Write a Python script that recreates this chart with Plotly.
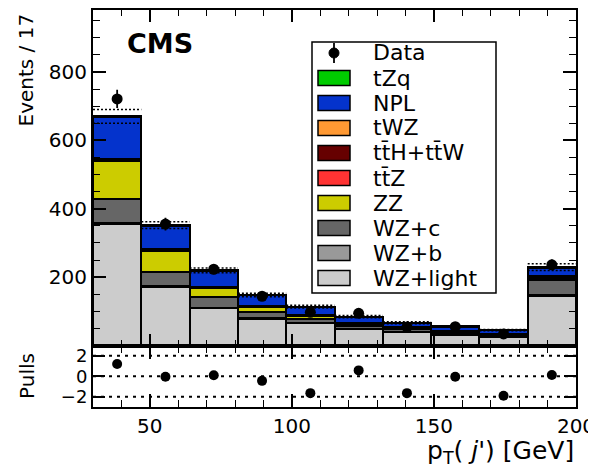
import numpy as np
import plotly.graph_objects as go

# ---------------- data ----------------
bin_edges = [30, 47, 64, 81, 98, 115, 132, 149, 166, 183, 200]

wz_light = [355, 170, 109, 77, 65, 47, 39, 32, 25, 145]
wz_b     = [4, 3, 2, 2, 1, 1, 1, 1, 1, 3]
wz_c     = [70, 42, 31, 18, 11, 9, 7, 5, 4, 43]
zz       = [110, 62, 27, 17, 10, 6, 5, 3, 2, 6]
ttz      = [3, 2, 2, 1, 1, 1, 1, 0.5, 0.5, 3]
tth_ttw  = [2, 1, 1, 1, 0.5, 0.5, 0.5, 0.5, 0.5, 2]
twz      = [1, 1, 0.5, 0.5, 0.5, 0.5, 0.5, 0.3, 0.3, 1]
npl      = [122, 69, 46, 30, 24, 19, 12, 13, 11, 24]
tzq      = [3, 2, 1, 1, 1, 0.5, 0.5, 0.5, 0.5, 2]

bkg_unc  = [20, 10, 7, 5, 4, 3, 3, 2, 2, 10]

data_counts = [721, 355, 223, 144, 97, 94, 54, 55, 34, 236]
pulls = [1.2, -0.05, 0.1, -0.45, -1.65, 0.57, -1.65, -0.05, -1.9, 0.12]

stack_names  = ["WZ+light", "WZ+b", "WZ+c", "ZZ", "tt\u0304Z", "tt\u0304H+tt\u0304W", "tWZ", "NPL", "tZq"]
stack_values = [wz_light, wz_b, wz_c, zz, ttz, tth_ttw, twz, npl, tzq]
stack_colors = ["#cccccc", "#999999", "#666666", "#cccc00", "#ff3333", "#660000", "#ff9933", "#0433cc", "#00cc00"]

x_ticks_major = [50, 100, 150, 200]
y_ticks_major = [200, 400, 600, 800]
pull_ticks = [-2, 0, 2]
pull_ticktext = ["\u22122", "0", "2"]
pull_levels = [-2, 0, 2]

# ---------------- derived ----------------
lo = np.array(bin_edges[:-1], float)
hi = np.array(bin_edges[1:], float)
centers = (lo + hi) / 2
widths = hi - lo
total = np.sum(np.array(stack_values, float), axis=0)
unc = np.array(bkg_unc, float)
dat = np.array(data_counts, float)

FONT = "DejaVu Sans"
fig = go.Figure()

for name, vals, col in zip(stack_names, stack_values, stack_colors):
    fig.add_trace(go.Bar(
        x=centers, y=vals, width=widths, name=name,
        marker=dict(color=col, line=dict(color="black", width=2)),
        xaxis="x", yaxis="y", showlegend=False))

# uncertainty band edges (dotted)
for sign in (1, -1):
    xs, ys = [], []
    for a, b, t, u in zip(lo, hi, total, unc):
        xs += [a, b, None]
        ys += [t + sign * u, t + sign * u, None]
    fig.add_trace(go.Scatter(x=xs, y=ys, mode="lines", xaxis="x", yaxis="y",
                             line=dict(color="black", width=1.5, dash="2px,2px"),
                             showlegend=False, hoverinfo="skip"))

fig.add_trace(go.Scatter(
    x=centers, y=dat, mode="markers", name="Data",
    marker=dict(color="black", size=11),
    error_y=dict(type="data", array=np.sqrt(dat), color="black", thickness=1.8, width=0),
    xaxis="x", yaxis="y", showlegend=False))

fig.add_trace(go.Scatter(
    x=centers, y=pulls, mode="markers",
    marker=dict(color="black", size=10),
    xaxis="x2", yaxis="y2", showlegend=False))

# ---------------- layout ----------------
OFF = 8                      # page body margin offset
W, H = 596 - OFF, 472 - OFF
PX0, PX1, PY0, PY1 = 93, 576, 10, 407   # plot area in page pixels
L, T = PX0 - OFF, PY0 - OFF
R, B = W - (PX1 - OFF), H - (PY1 - OFF)
pw, ph = PX1 - PX0, PY1 - PY0
split = 61.5 / ph


def px_x(p):
    return (p - PX0) / pw


def px_y(p):
    return (PY1 - p) / ph


axis_common = dict(showline=True, linecolor="black", linewidth=2, mirror="ticks",
                   ticks="inside", tickcolor="black", showgrid=False, zeroline=False,
                   tickfont=dict(family=FONT, size=20, color="black"))

fig.update_layout(
    width=W, height=H, barmode="stack", bargap=0,
    margin=dict(l=L, r=R, t=T, b=B, autoexpand=False),
    paper_bgcolor="white", plot_bgcolor="white",
    font=dict(family=FONT, color="black"),
    xaxis=dict(domain=[0, 1], anchor="y", range=[30, 200], tickvals=x_ticks_major,
               showticklabels=False, ticklen=12, tickwidth=1.5,
               minor=dict(dtick=10, tick0=0, ticklen=6, ticks="inside", tickcolor="black", tickwidth=1.2),
               **axis_common),
    yaxis=dict(domain=[split, 1], anchor="x", range=[0.01, 981], tickvals=y_ticks_major,
               ticklen=13, tickwidth=1.5,
               minor=dict(dtick=50, tick0=0, ticklen=7, ticks="inside", tickcolor="black", tickwidth=1.2),
               **axis_common),
    xaxis2=dict(domain=[0, 1], anchor="y2", range=[30, 200], tickvals=x_ticks_major,
                ticklen=13, tickwidth=1.5,
                minor=dict(dtick=10, tick0=0, ticklen=7, ticks="inside", tickcolor="black", tickwidth=1.2),
                **axis_common),
    yaxis2=dict(domain=[0, split], anchor="x2", range=[-3, 3], tickvals=pull_ticks,
                ticktext=pull_ticktext, ticklen=12, tickwidth=1.5,
                **{**axis_common, "tickfont": dict(family=FONT, size=18, color="black")}),
)

shapes = []
for lv in pull_levels:
    shapes.append(dict(type="line", xref="x2", yref="y2", x0=30, x1=200, y0=lv, y1=lv,
                       line=dict(color="black", width=2, dash="3px,5px"), layer="below"))

annotations = [
    dict(text="Events / 17", xref="paper", yref="paper", x=px_x(25), y=px_y(12),
         xanchor="center", yanchor="top", textangle=-90, showarrow=False,
         font=dict(family=FONT, size=20, color="black")),
    dict(text="Pulls", xref="paper", yref="paper", x=px_x(27), y=px_y(376),
         xanchor="center", yanchor="middle", textangle=-90, showarrow=False,
         font=dict(family=FONT, size=20, color="black")),
    dict(text="<b>CMS</b>", xref="paper", yref="paper", x=px_x(125), y=px_y(43),
         xanchor="left", yanchor="middle", showarrow=False,
         font=dict(family=FONT, size=27, color="black")),
    dict(text="p<sub>T</sub>( <i>j</i>') [GeV]", xref="paper", yref="paper",
         x=1.0, y=px_y(452), xanchor="right", yanchor="middle", showarrow=False,
         font=dict(family=FONT, size=25, color="black")),
]

# manual legend
bx0, bx1, by0, by1 = 312, 496, 42, 293
shapes.append(dict(type="rect", xref="paper", yref="paper", x0=px_x(bx0), x1=px_x(bx1),
                   y0=px_y(by1), y1=px_y(by0), line=dict(color="black", width=1.5),
                   fillcolor="white", layer="above"))
legend_names = ["Data"] + stack_names[::-1]
legend_colors = [None] + stack_colors[::-1]
for i, (nm, col) in enumerate(zip(legend_names, legend_colors)):
    yc = 53 + 25 * i
    if col is None:
        shapes.append(dict(type="line", xref="paper", yref="paper", x0=px_x(334), x1=px_x(334),
                           y0=px_y(yc - 10), y1=px_y(yc + 10), line=dict(color="black", width=1.8),
                           layer="above"))
        shapes.append(dict(type="circle", xref="paper", yref="paper", x0=px_x(329), x1=px_x(339),
                           y0=px_y(yc + 5), y1=px_y(yc - 5), fillcolor="black",
                           line=dict(color="black", width=1), layer="above"))
    else:
        shapes.append(dict(type="rect", xref="paper", yref="paper", x0=px_x(318), x1=px_x(350),
                           y0=px_y(yc + 7.5), y1=px_y(yc - 7.5), fillcolor=col,
                           line=dict(color="black", width=1.5), layer="above"))
    annotations.append(dict(text=nm, xref="paper", yref="paper", x=px_x(371), y=px_y(yc),
                            xanchor="left", yanchor="middle", showarrow=False,
                            font=dict(family=FONT, size=22, color="black")))

fig.update_layout(shapes=shapes, annotations=annotations)
fig.write_html("out.html")
